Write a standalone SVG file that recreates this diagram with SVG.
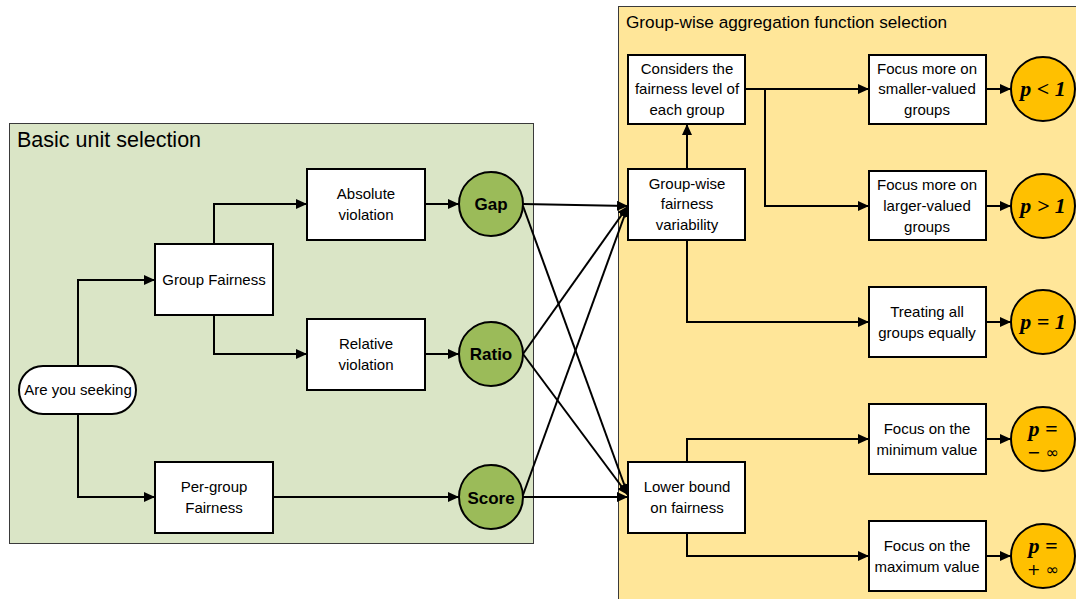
<svg xmlns="http://www.w3.org/2000/svg" width="1076" height="599" viewBox="0 0 1076 599">
<style>
.panel-g{fill:#dae5c6;stroke:#3a3a3a;stroke-width:1}
.panel-y{fill:#ffe699;stroke:#3a3a3a;stroke-width:1}
.title{font-family:"Liberation Sans",Arial,sans-serif;fill:#000}
.box{fill:#fff;stroke:#000;stroke-width:2}
.t{font-family:"Liberation Sans",Arial,sans-serif;font-size:15px;fill:#000;text-anchor:middle}
.gc{fill:#9bbb59;stroke:#000;stroke-width:2}
.oc{fill:#ffc000;stroke:#000;stroke-width:2}
.ct{font-family:"Liberation Sans",Arial,sans-serif;font-weight:bold;font-size:17px;fill:#000;text-anchor:middle}
.pt{font-family:"Liberation Serif","Times New Roman",serif;font-weight:bold;font-style:italic;font-size:22px;fill:#000;text-anchor:middle}
.inf{font-family:"DejaVu Sans",sans-serif;font-size:16px;fill:#000;text-anchor:middle}
.c{fill:none;stroke:#000;stroke-width:2}
</style>
<defs>
<marker id="arr" markerUnits="userSpaceOnUse" markerWidth="12" markerHeight="10" refX="11" refY="5" orient="auto">
<path d="M0,0 L11,5 L0,10 Z" fill="#000"/>
</marker>
</defs>
<rect class="panel-g" x="9.5" y="123.5" width="524" height="420"/>
<rect class="panel-y" x="618.5" y="6.5" width="470" height="600"/>
<text class="title" x="17" y="147" font-size="21.5">Basic unit selection</text>
<text class="title" x="626" y="28" font-size="17.2">Group-wise aggregation function selection</text>

<g id="connectors">
<path class="c" d="M78,366 V280 H155" marker-end="url(#arr)"/>
<path class="c" d="M78,414 V497 H155" marker-end="url(#arr)"/>
<path class="c" d="M214,244 V204 H307" marker-end="url(#arr)"/>
<path class="c" d="M214,315 V354 H307" marker-end="url(#arr)"/>
<path class="c" d="M425,204 H459" marker-end="url(#arr)"/>
<path class="c" d="M425,354 H459" marker-end="url(#arr)"/>
<path class="c" d="M273,497 H459" marker-end="url(#arr)"/>
<path class="c" d="M523,204 L628,206" marker-end="url(#arr)"/>
<path class="c" d="M523,206 L628,495" marker-end="url(#arr)"/>
<path class="c" d="M523,354 L628,206" marker-end="url(#arr)"/>
<path class="c" d="M523,354 L628,495" marker-end="url(#arr)"/>
<path class="c" d="M523,495 L628,206" marker-end="url(#arr)"/>
<path class="c" d="M523,497 L628,497" marker-end="url(#arr)"/>
<path class="c" d="M687,169 V124" marker-end="url(#arr)"/>
<path class="c" d="M745,89 H869" marker-end="url(#arr)"/>
<path class="c" d="M765,89 V206 H869" marker-end="url(#arr)"/>
<path class="c" d="M687,240 V322 H869" marker-end="url(#arr)"/>
<path class="c" d="M687,462 V439 H869" marker-end="url(#arr)"/>
<path class="c" d="M687,533 V556 H869" marker-end="url(#arr)"/>
<path class="c" d="M986,89 H1011" marker-end="url(#arr)"/>
<path class="c" d="M986,206 H1011" marker-end="url(#arr)"/>
<path class="c" d="M986,322 H1011" marker-end="url(#arr)"/>
<path class="c" d="M986,439 H1011" marker-end="url(#arr)"/>
<path class="c" d="M986,556 H1011" marker-end="url(#arr)"/>
</g>

<g id="seeking">
<rect class="box" x="19" y="366" width="117" height="48" rx="24"/>
<text class="t" x="78" y="395">Are you seeking</text>
</g>
<g id="group-fairness">
<rect class="box" x="155" y="244" width="118" height="71"/>
<text class="t" x="214" y="285">Group Fairness</text>
</g>
<g id="per-group">
<rect class="box" x="155" y="462" width="118" height="71"/>
<text class="t" x="214" y="492">Per-group</text>
<text class="t" x="214" y="513">Fairness</text>
</g>
<g id="absolute">
<rect class="box" x="307" y="169" width="118" height="71"/>
<text class="t" x="366" y="199">Absolute</text>
<text class="t" x="366" y="220">violation</text>
</g>
<g id="relative">
<rect class="box" x="307" y="319" width="118" height="71"/>
<text class="t" x="366" y="349">Relative</text>
<text class="t" x="366" y="370">violation</text>
</g>
<g id="gap">
<circle class="gc" cx="491" cy="204" r="32"/>
<text class="ct" x="491" y="210">Gap</text>
</g>
<g id="ratio">
<circle class="gc" cx="491" cy="354" r="32"/>
<text class="ct" x="491" y="360">Ratio</text>
</g>
<g id="score">
<circle class="gc" cx="491" cy="497" r="32"/>
<text class="ct" x="491" y="504" font-size="19">Score</text>
</g>

<g id="considers">
<rect class="box" x="628" y="55" width="117" height="69"/>
<text class="t" x="687" y="74">Considers the</text>
<text class="t" x="687" y="94">fairness level of</text>
<text class="t" x="687" y="115">each group</text>
</g>
<g id="variability">
<rect class="box" x="628" y="169" width="117" height="71"/>
<text class="t" x="687" y="189">Group-wise</text>
<text class="t" x="687" y="209">fairness</text>
<text class="t" x="687" y="230">variability</text>
</g>
<g id="lower-bound">
<rect class="box" x="628" y="462" width="117" height="71"/>
<text class="t" x="687" y="492">Lower bound</text>
<text class="t" x="687" y="513">on fairness</text>
</g>
<g id="smaller">
<rect class="box" x="869" y="55" width="117" height="69"/>
<text class="t" x="927" y="74">Focus more on</text>
<text class="t" x="927" y="94">smaller-valued</text>
<text class="t" x="927" y="115">groups</text>
</g>
<g id="larger">
<rect class="box" x="869" y="171" width="117" height="69"/>
<text class="t" x="927" y="190">Focus more on</text>
<text class="t" x="927" y="211">larger-valued</text>
<text class="t" x="927" y="232">groups</text>
</g>
<g id="equally">
<rect class="box" x="869" y="287" width="117" height="70"/>
<text class="t" x="927" y="317">Treating all</text>
<text class="t" x="927" y="338">groups equally</text>
</g>
<g id="minimum">
<rect class="box" x="869" y="404" width="117" height="70"/>
<text class="t" x="927" y="434">Focus on the</text>
<text class="t" x="927" y="455">minimum value</text>
</g>
<g id="maximum">
<rect class="box" x="869" y="521" width="117" height="70"/>
<text class="t" x="927" y="551">Focus on the</text>
<text class="t" x="927" y="572">maximum value</text>
</g>
<g id="p-lt-1">
<circle class="oc" cx="1043" cy="89" r="32"/>
<text class="pt" x="1043" y="96">p &lt; 1</text>
</g>
<g id="p-gt-1">
<circle class="oc" cx="1043" cy="206" r="32"/>
<text class="pt" x="1043" y="213">p &gt; 1</text>
</g>
<g id="p-eq-1">
<circle class="oc" cx="1043" cy="322" r="32"/>
<text class="pt" x="1043" y="329">p = 1</text>
</g>
<g id="p-neg-inf">
<circle class="oc" cx="1043" cy="439" r="32"/>
<text class="pt" x="1043" y="436">p =</text>
<text class="inf" x="1043" y="458">− ∞</text>
</g>
<g id="p-pos-inf">
<circle class="oc" cx="1043" cy="556" r="32"/>
<text class="pt" x="1043" y="553">p =</text>
<text class="inf" x="1043" y="575">+ ∞</text>
</g>
</svg>
